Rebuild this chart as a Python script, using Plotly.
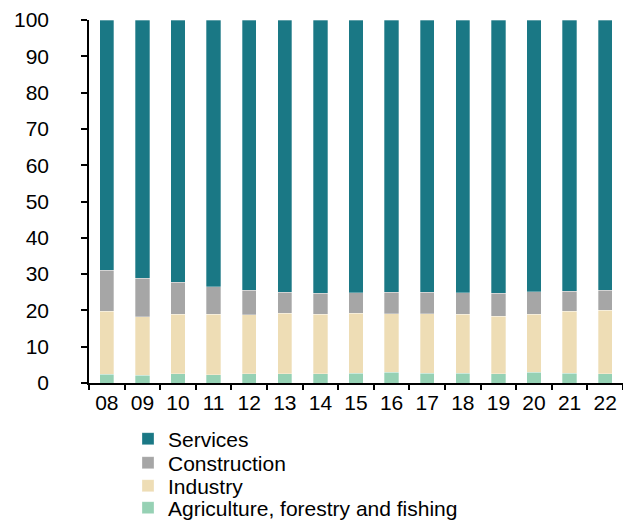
import plotly.graph_objects as go

years = ["08", "09", "10", "11", "12", "13", "14", "15", "16", "17", "18", "19", "20", "21", "22"]
agriculture = [2.4, 2.2, 2.5, 2.3, 2.5, 2.6, 2.5, 2.7, 2.9, 2.7, 2.7, 2.5, 2.9, 2.7, 2.5]
industry = [17.3, 16.0, 16.4, 16.7, 16.3, 16.6, 16.5, 16.5, 16.2, 16.4, 16.2, 15.9, 16.1, 17.0, 17.6]
construction = [11.3, 10.7, 8.8, 7.5, 6.7, 5.8, 5.7, 5.7, 5.9, 5.9, 6.0, 6.3, 6.1, 5.6, 5.4]
services = [69.0, 71.1, 72.3, 73.5, 74.5, 75.0, 75.3, 75.1, 75.0, 75.0, 75.1, 75.3, 74.9, 74.7, 74.5]
yticks = [0, 10, 20, 30, 40, 50, 60, 70, 80, 90, 100]

series = [
    ("Agriculture, forestry and fishing", agriculture, "#96D1B4", "legend4"),
    ("Industry", industry, "#EEDDB5", "legend3"),
    ("Construction", construction, "#A6A6A6", "legend2"),
    ("Services", services, "#1A7885", "legend"),
]

fig = go.Figure()
for name, vals, color, lg in series:
    fig.add_trace(go.Bar(
        x=years, y=vals, name=name, legend=lg,
        marker=dict(color=color, line=dict(color="rgba(255,255,255,0.6)", width=0.5)),
    ))

# page body adds an 8px margin, so the figure is 8px smaller than the window
W, H = 623, 512
legend_rows = [431, 455, 478, 500]
def leg(row_y):
    return dict(
        xref="container", yref="container",
        x=120 / W, xanchor="left",
        y=1 - row_y / H, yanchor="middle",
        font=dict(size=21),
        itemwidth=30,
        bgcolor="rgba(0,0,0,0)",
        borderwidth=0,
    )

fig.update_layout(
    barmode="stack",
    bargap=0.6,
    width=W, height=H,
    margin=dict(l=81, r=8, t=12, b=137, autoexpand=False),
    paper_bgcolor="white", plot_bgcolor="white",
    font=dict(family="Liberation Sans, Arial, sans-serif", size=21, color="black"),
    showlegend=True,
    legend=leg(legend_rows[0]),
    legend2=leg(legend_rows[1]),
    legend3=leg(legend_rows[2]),
    legend4=leg(legend_rows[3]),
    xaxis=dict(
        showline=True, linecolor="black", linewidth=1.5,
        ticks="outside", tickson="boundaries", ticklen=5, tickcolor="black", tickwidth=1.5,
        showgrid=False, automargin=False, ticklabeloverflow="allow",
    ),
    yaxis=dict(
        range=[0, 100],
        tickvals=yticks,
        showline=True, linecolor="black", linewidth=1.5,
        ticks="outside", ticklen=6, tickcolor="black", tickwidth=1.5,
        ticklabelstandoff=28, ticklabeloverflow="allow",
        showgrid=False, zeroline=False, automargin=False,
    ),
)

fig.write_html("out.html")
